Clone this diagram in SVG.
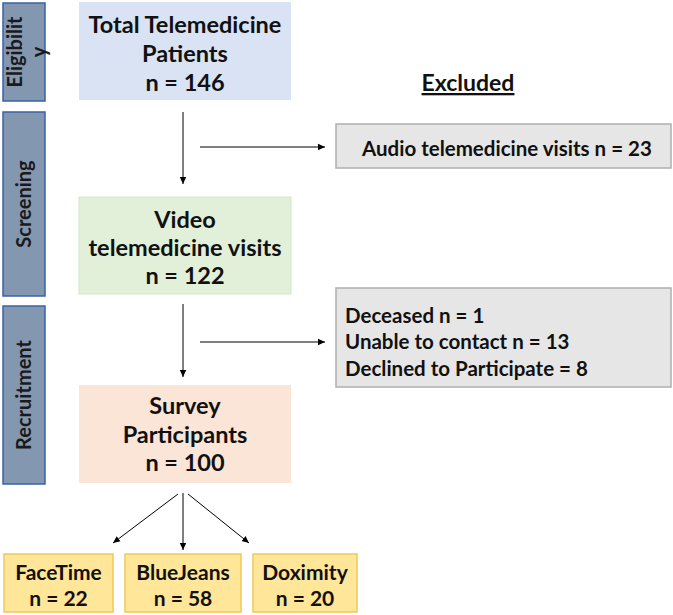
<svg xmlns="http://www.w3.org/2000/svg" width="673" height="615" viewBox="0 0 673 615">
<defs>
<marker id="ah" markerWidth="8" markerHeight="8" refX="7" refY="4" orient="auto" markerUnits="userSpaceOnUse">
<path d="M0,0.8 L7,4 L0,7.2 Z" fill="#000"/>
</marker>
<style>
text{font-family:Lato,"Open Sans","Liberation Sans",sans-serif;font-weight:bold;fill:#111;}
.side rect{fill:#8497b0;stroke:#3b62a6;stroke-width:1.5;}
.side text{font-size:20px;text-anchor:middle;fill:#1a1a1a;}
.main text{font-size:23.5px;text-anchor:middle;}
.exc rect{fill:#e7e6e6;stroke:#b0aeae;stroke-width:1.5;}
.exc text{font-size:20.5px;}
.plat rect{fill:#ffe699;stroke:#f2c85a;stroke-width:1.5;}
.plat text{font-size:21px;text-anchor:middle;}
.conn line{stroke:#000;stroke-width:1;marker-end:url(#ah);}
</style>
</defs>
<rect width="673" height="615" fill="#fff"/>

<g id="side-eligibility" class="side">
<rect x="3" y="3" width="42" height="98"/>
<text transform="translate(22,52) rotate(-90)">Eligibilit</text>
<text transform="translate(46,52) rotate(-90)">y</text>
</g>
<g id="side-screening" class="side">
<rect x="3" y="112" width="42" height="184"/>
<text transform="translate(31,204) rotate(-90)">Screening</text>
</g>
<g id="side-recruitment" class="side">
<rect x="3" y="306" width="42" height="178"/>
<text transform="translate(31,395) rotate(-90)">Recruitment</text>
</g>

<g id="node-total" class="main">
<rect x="79" y="2" width="212" height="98" fill="#dae3f3"/>
<text x="185" y="33">Total Telemedicine</text>
<text x="185" y="62">Patients</text>
<text x="185" y="91">n = 146</text>
</g>
<g id="node-video" class="main">
<rect x="79" y="197" width="212" height="97" fill="#e2f0d9" stroke="#d3e6c6" stroke-width="1"/>
<text x="185" y="228">Video</text>
<text x="185" y="256">telemedicine visits</text>
<text x="185" y="284">n = 122</text>
</g>
<g id="node-survey" class="main">
<rect x="79" y="385" width="212" height="98" fill="#fbe5d6"/>
<text x="185" y="414">Survey</text>
<text x="185" y="443">Participants</text>
<text x="185" y="471">n = 100</text>
</g>

<g id="label-excluded">
<text x="468" y="91" font-size="23" text-anchor="middle" text-decoration="underline">Excluded</text>
</g>
<g id="node-audio" class="exc">
<rect x="336" y="124" width="335" height="44"/>
<text x="362" y="156">Audio telemedicine visits n = 23</text>
</g>
<g id="node-excl2" class="exc">
<rect x="336" y="288" width="335" height="99"/>
<text x="345" y="323">Deceased n = 1</text>
<text x="345" y="349">Unable to contact n = 13</text>
<text x="345" y="376">Declined to Participate = 8</text>
</g>

<g id="node-facetime" class="plat">
<rect x="4" y="554" width="109" height="58"/>
<text x="58.5" y="580">FaceTime</text>
<text x="58.5" y="606">n = 22</text>
</g>
<g id="node-bluejeans" class="plat">
<rect x="125" y="554" width="116" height="58"/>
<text x="183" y="580">BlueJeans</text>
<text x="183" y="606">n = 58</text>
</g>
<g id="node-doximity" class="plat">
<rect x="253" y="554" width="104" height="58"/>
<text x="305" y="580">Doximity</text>
<text x="305" y="606">n = 20</text>
</g>

<g id="connectors" class="conn">
<line x1="183" y1="112" x2="183" y2="184"/>
<line x1="200" y1="147" x2="325" y2="147"/>
<line x1="183" y1="304" x2="183" y2="377"/>
<line x1="200" y1="342" x2="325" y2="342"/>
<line x1="183" y1="493" x2="183" y2="550"/>
<line x1="178" y1="494" x2="113" y2="543"/>
<line x1="188" y1="494" x2="249" y2="543"/>
</g>
</svg>
